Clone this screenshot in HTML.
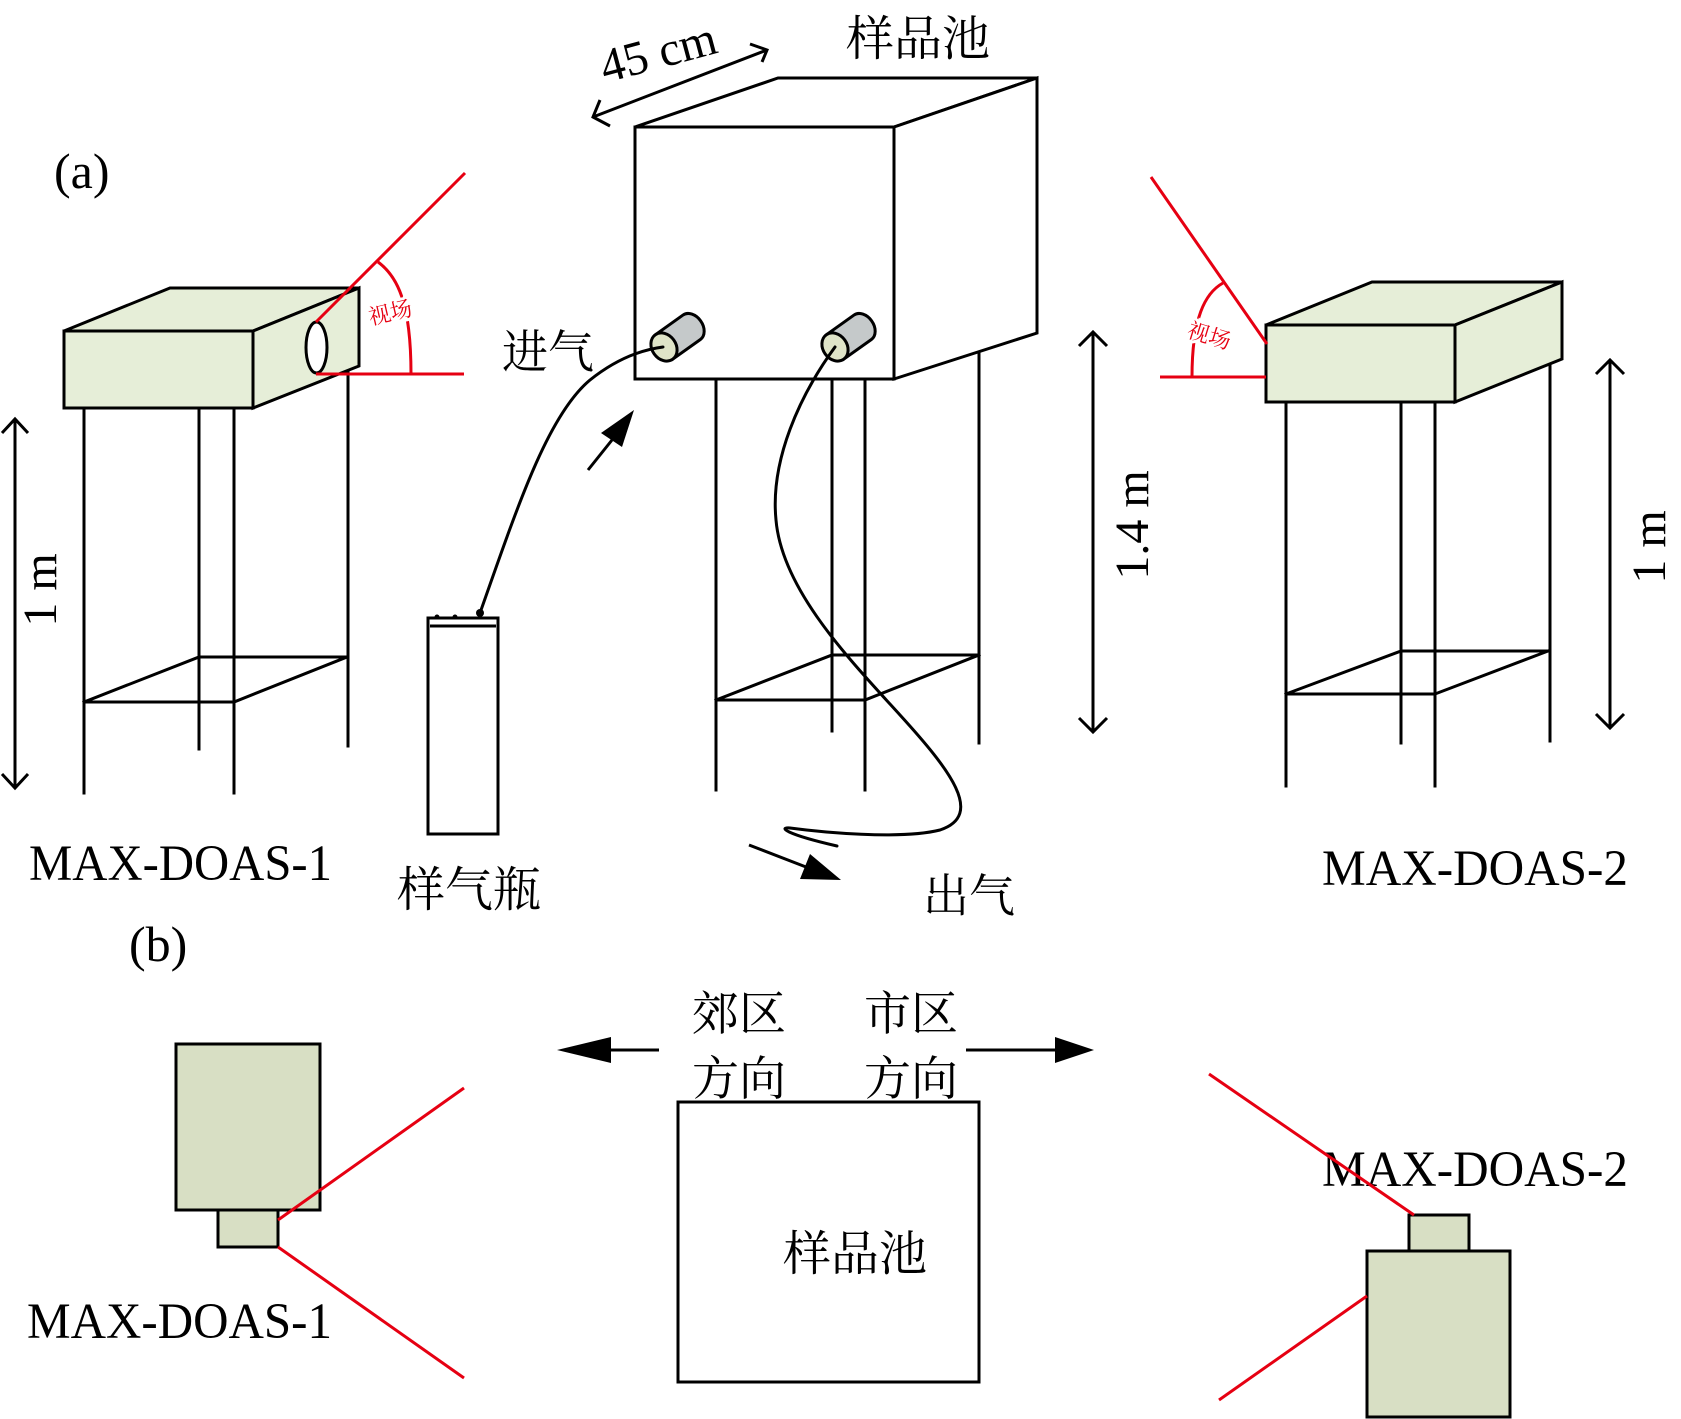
<!DOCTYPE html>
<html>
<head>
<meta charset="utf-8">
<style>
  html, body { margin:0; padding:0; background:#fff; }
  svg { display:block; }
  .lat { font-family: "Liberation Serif", serif; fill:#000; }
  .cjk { font-family: "Liberation Serif", "Noto Serif CJK SC", "Noto Sans CJK SC", serif; fill:#000; }
</style>
</head>
<body>
<svg width="1681" height="1419" viewBox="0 0 1681 1419" xmlns="http://www.w3.org/2000/svg">
  <rect x="0" y="0" width="1681" height="1419" fill="#fff"/>

  <!-- ============ (a) ============ -->
  <text class="lat" x="54" y="188" font-size="50">(a)</text>

  <!-- Left MAX-DOAS-1 stand -->
  <g stroke="#000" stroke-width="3" fill="none" stroke-linecap="square">
    <line x1="84" y1="408" x2="84" y2="793"/>
    <line x1="199" y1="408" x2="199" y2="749"/>
    <line x1="234" y1="408" x2="234" y2="793"/>
    <line x1="348" y1="366" x2="348" y2="746"/>
    <line x1="84" y1="702" x2="234" y2="702"/>
    <line x1="199" y1="657" x2="347" y2="657"/>
    <line x1="84" y1="702" x2="199" y2="657"/>
    <line x1="234" y1="702" x2="347" y2="657"/>
  </g>
  <g stroke="#000" stroke-width="3" fill="#e6eed8" stroke-linejoin="miter">
    <polygon points="64,331 170,288 359,288 253,331"/>
    <polygon points="253,331 359,288 359,366 253,408"/>
    <rect x="64" y="331" width="189" height="77"/>
    <ellipse cx="316.5" cy="347.5" rx="10.5" ry="25.5" fill="#fff"/>
  </g>
  <!-- left field of view -->
  <g stroke="#e60012" stroke-width="3" fill="none">
    <line x1="316" y1="322" x2="465" y2="173"/>
    <line x1="316" y1="374" x2="464" y2="374"/>
    <path d="M378,262 C397,276 411,302 411,374"/>
  </g>
  <text class="cjk" x="0" y="0" font-size="22" fill="#e60012" stroke="#fff" stroke-width="6" paint-order="stroke" text-anchor="middle" transform="translate(392,320) rotate(-13)" style="fill:#e60012">视场</text>

  <!-- left 1 m arrow -->
  <g stroke="#000" stroke-width="3" fill="none">
    <line x1="15" y1="421" x2="15" y2="786"/>
    <polyline points="2,433 15,419 28,433"/>
    <polyline points="2,774 15,788 28,774"/>
  </g>
  <text class="lat" font-size="48" text-anchor="middle" transform="translate(56,590) rotate(-90)">1 m</text>

  <text class="lat" x="29" y="880" font-size="51" textLength="303" lengthAdjust="spacingAndGlyphs">MAX-DOAS-1</text>

  <!-- Sample cell (3D) -->
  <g stroke="#000" stroke-width="3" fill="none" stroke-linecap="square">
    <line x1="716" y1="379" x2="716" y2="790"/>
    <line x1="832" y1="379" x2="832" y2="731"/>
    <line x1="865" y1="379" x2="865" y2="790"/>
    <line x1="979" y1="352" x2="979" y2="743"/>
    <line x1="716" y1="700" x2="865" y2="700"/>
    <line x1="832" y1="655" x2="979" y2="655"/>
    <line x1="716" y1="700" x2="832" y2="655"/>
    <line x1="865" y1="700" x2="979" y2="655"/>
  </g>
  <g stroke="#000" stroke-width="3" fill="#fff">
    <polygon points="635,127 778,78 1037,78 894,127"/>
    <polygon points="894,127 1037,78 1037,333 894,379"/>
    <rect x="635" y="127" width="259" height="252"/>
  </g>

  <!-- 45 cm arrow -->
  <g stroke="#000" stroke-width="3" fill="none">
    <line x1="593" y1="117" x2="767" y2="50"/>
    <polyline points="600,100 593,117 610,126"/>
    <polyline points="750,44 767,50 762,62"/>
  </g>
  <text class="lat" font-size="48" transform="translate(605,83) rotate(-15)">45 cm</text>

  <text class="cjk" x="846" y="55" font-size="48">样品池</text>

  <!-- cylinders -->
  <g stroke="#000" stroke-width="3">
    <g transform="translate(664,347) rotate(-35.5)">
      <path d="M0,-15 L34,-15 A11,15 0 0 1 34,15 L0,15 Z" fill="#c5c9ca"/>
      <ellipse cx="0" cy="0" rx="12" ry="15" fill="#dfe4c8"/>
    </g>
    <g transform="translate(835,347) rotate(-35.5)">
      <path d="M0,-15 L34,-15 A11,15 0 0 1 34,15 L0,15 Z" fill="#c5c9ca"/>
      <ellipse cx="0" cy="0" rx="12" ry="15" fill="#dfe4c8"/>
    </g>
  </g>

  <!-- tubes -->
  <g stroke="#000" stroke-width="3" fill="none" stroke-linecap="round">
    <path d="M480,613 C518,505 548,415 590,380 C615,360 640,350 663,347"/>
    <path d="M835,347 C800,395 770,460 776,520 C782,590 850,660 900,715 C950,770 985,815 940,830 C900,840 820,832 790,828 C778,827 785,834 837,846"/>
  </g>
  <circle cx="480" cy="613" r="4" fill="#000"/>

  <!-- gas bottle -->
  <g stroke="#000" stroke-width="3" fill="#fff">
    <rect x="428" y="618" width="70" height="216"/>
    <line x1="430" y1="626" x2="496" y2="626"/>
  </g>
  <circle cx="437" cy="617" r="2.5" fill="#000"/>
  <circle cx="455" cy="617" r="2.5" fill="#000"/>

  <!-- inlet arrow -->
  <line x1="588" y1="470" x2="612" y2="440" stroke="#000" stroke-width="3"/>
  <polygon points="634,410 601,433 622,447" fill="#000"/>
  <text class="cjk" x="502" y="368" font-size="46">进气</text>

  <!-- outlet arrow -->
  <line x1="749" y1="845" x2="806" y2="867" stroke="#000" stroke-width="3"/>
  <polygon points="841,880 810,854 800,879" fill="#000"/>
  <text class="cjk" x="923" y="912" font-size="46">出气</text>

  <text class="cjk" x="397" y="906" font-size="48">样气瓶</text>

  <!-- 1.4 m arrow -->
  <g stroke="#000" stroke-width="3" fill="none">
    <line x1="1093" y1="334" x2="1093" y2="730"/>
    <polyline points="1079,346 1093,332 1107,346"/>
    <polyline points="1079,718 1093,732 1107,718"/>
  </g>
  <text class="lat" font-size="48" text-anchor="middle" transform="translate(1148,525) rotate(-90)">1.4 m</text>

  <!-- Right MAX-DOAS-2 stand -->
  <g stroke="#000" stroke-width="3" fill="none" stroke-linecap="square">
    <line x1="1286" y1="402" x2="1286" y2="786"/>
    <line x1="1401" y1="402" x2="1401" y2="743"/>
    <line x1="1435" y1="402" x2="1435" y2="786"/>
    <line x1="1550" y1="359" x2="1550" y2="741"/>
    <line x1="1286" y1="694" x2="1435" y2="694"/>
    <line x1="1401" y1="651" x2="1548" y2="651"/>
    <line x1="1286" y1="694" x2="1401" y2="651"/>
    <line x1="1435" y1="694" x2="1548" y2="651"/>
  </g>
  <g stroke="#000" stroke-width="3" fill="#e6eed8">
    <polygon points="1266,325 1372,282 1562,282 1455,325"/>
    <polygon points="1455,325 1562,282 1562,359 1455,402"/>
    <rect x="1266" y="325" width="189" height="77"/>
  </g>
  <g stroke="#e60012" stroke-width="3" fill="none">
    <line x1="1151" y1="177" x2="1267" y2="344"/>
    <line x1="1160" y1="377" x2="1266" y2="377"/>
    <path d="M1223,283 C1205,293 1192,318 1192,377"/>
  </g>
  <text class="cjk" x="0" y="0" font-size="22" stroke="#fff" stroke-width="6" paint-order="stroke" text-anchor="middle" transform="translate(1207,343) rotate(17)" style="fill:#e60012">视场</text>

  <!-- right 1 m arrow -->
  <g stroke="#000" stroke-width="3" fill="none">
    <line x1="1610" y1="362" x2="1610" y2="726"/>
    <polyline points="1596,374 1610,360 1624,374"/>
    <polyline points="1596,714 1610,728 1624,714"/>
  </g>
  <text class="lat" font-size="48" text-anchor="middle" transform="translate(1665,547) rotate(-90)">1 m</text>

  <text class="lat" x="1322" y="885" font-size="51" textLength="306" lengthAdjust="spacingAndGlyphs">MAX-DOAS-2</text>

  <!-- ============ (b) ============ -->
  <text class="lat" x="129" y="961" font-size="50">(b)</text>

  <!-- direction arrows -->
  <line x1="659" y1="1050" x2="608" y2="1050" stroke="#000" stroke-width="3"/>
  <polygon points="557,1050 611,1037 611,1063" fill="#000"/>
  <line x1="966" y1="1050" x2="1058" y2="1050" stroke="#000" stroke-width="3"/>
  <polygon points="1094,1050 1055,1037 1055,1063" fill="#000"/>

  <text class="cjk" x="692" y="1030" font-size="47">郊区</text>
  <text class="cjk" x="692" y="1095" font-size="47">方向</text>
  <text class="cjk" x="864" y="1030" font-size="47">市区</text>
  <text class="cjk" x="864" y="1095" font-size="47">方向</text>

  <!-- sample cell top view -->
  <rect x="678" y="1102" width="301" height="280" fill="#fff" stroke="#000" stroke-width="3"/>
  <text class="cjk" x="783" y="1270" font-size="48">样品池</text>

  <!-- MAX-DOAS-1 top view -->
  <g stroke="#000" stroke-width="3" fill="#d8dfc4">
    <rect x="176" y="1044" width="144" height="166"/>
    <rect x="218" y="1210" width="60" height="37"/>
  </g>
  <g stroke="#e60012" stroke-width="3">
    <line x1="278" y1="1220" x2="464" y2="1088"/>
    <line x1="278" y1="1247" x2="464" y2="1378"/>
  </g>
  <text class="lat" x="27" y="1338" font-size="51" textLength="305" lengthAdjust="spacingAndGlyphs">MAX-DOAS-1</text>

  <!-- MAX-DOAS-2 top view -->
  <text class="lat" x="1322" y="1186" font-size="51" textLength="306" lengthAdjust="spacingAndGlyphs">MAX-DOAS-2</text>
  <g stroke="#000" stroke-width="3" fill="#d8dfc4">
    <rect x="1409" y="1215" width="60" height="36"/>
    <rect x="1367" y="1251" width="143" height="166"/>
  </g>
  <g stroke="#e60012" stroke-width="3">
    <line x1="1209" y1="1074" x2="1414" y2="1215"/>
    <line x1="1367" y1="1296" x2="1219" y2="1400"/>
  </g>
</svg>
</body>
</html>
